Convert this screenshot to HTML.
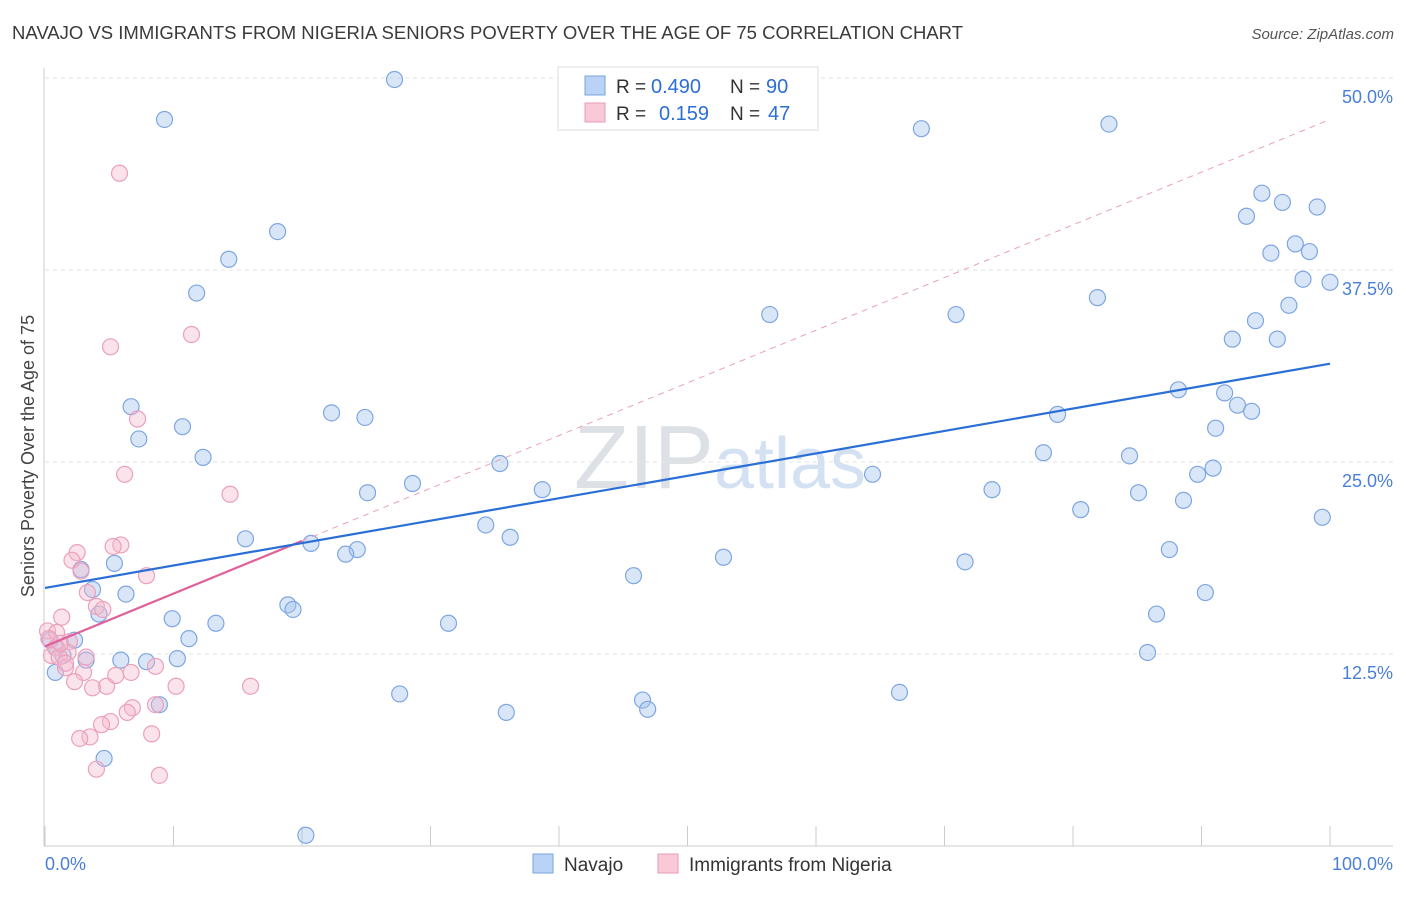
<!DOCTYPE html>
<html><head><meta charset="utf-8"><style>
body{margin:0;background:#fff;font-family:"Liberation Sans",sans-serif;}
svg text{font-family:"Liberation Sans",sans-serif;}
</style></head><body>
<svg id="chart" width="1406" height="892" xmlns="http://www.w3.org/2000/svg">
<text x="12" y="39" font-size="18" fill="#3a3a3a" textLength="951" lengthAdjust="spacingAndGlyphs">NAVAJO VS IMMIGRANTS FROM NIGERIA SENIORS POVERTY OVER THE AGE OF 75 CORRELATION CHART</text>
<text x="1394" y="39" font-size="15" fill="#555" text-anchor="end" font-style="italic">Source: ZipAtlas.com</text>
<text x="720" y="488" font-size="90" fill="#e4e8ee" text-anchor="middle" font-family="Liberation Serif"><tspan fill="#dde1e6">ZIP</tspan><tspan fill="#d3e1f3" font-family="Liberation Sans" font-size="72">atlas</tspan></text>
<g id="grid"></g>
<g id="axes"></g>
<g id="marks"></g>
<text transform="translate(34,456) rotate(-90)" font-size="18" fill="#444" text-anchor="middle">Seniors Poverty Over the Age of 75</text>
<text x="45" y="870" font-size="18" fill="#4a7fd8">0.0%</text>
<text x="1393" y="870" font-size="18" fill="#4a7fd8" text-anchor="end">100.0%</text>
<g>
<rect x="558" y="67" width="260" height="63" fill="#fff" stroke="#ddd"/>
<rect x="585" y="76" width="20" height="19" fill="#b9d2f5" stroke="#7aa3e0"/>
<rect x="585" y="103" width="20" height="19" fill="#f9c9d8" stroke="#e89ab5"/>
<text x="616" y="93" font-size="19" fill="#333">R =</text>
<text x="651" y="93" font-size="20" fill="#2a6fd6">0.490</text>
<text x="730" y="93" font-size="19" fill="#333">N =</text>
<text x="766" y="93" font-size="20" fill="#2a6fd6">90</text>
<text x="616" y="120" font-size="19" fill="#333">R =</text>
<text x="659" y="120" font-size="20" fill="#2a6fd6">0.159</text>
<text x="730" y="120" font-size="19" fill="#333">N =</text>
<text x="768" y="120" font-size="20" fill="#2a6fd6">47</text>
</g>
<g>
<rect x="533" y="854" width="20" height="19" fill="#b9d2f5" stroke="#7aa3e0"/>
<text x="564" y="871" font-size="19" fill="#333">Navajo</text>
<rect x="658" y="854" width="20" height="19" fill="#f9c9d8" stroke="#e89ab5"/>
<text x="689" y="871" font-size="19" fill="#333">Immigrants from Nigeria</text>
</g>
</svg>
<script>
const yTicks=[12.5,25,37.5,50];
const yTickLabels=["12.5%","25.0%","37.5%","50.0%"];
const xTicks=[0,10,20,30,40,50,60,70,80,90,100];
const navajoX=[27.2,9.3,68.2,82.8,18.1,14.3,11.8,94.7,96.3,99.0,93.5,97.3,95.4,98.4,97.9,100.0,81.9,56.4,70.9,96.8,94.2,92.4,95.9,6.7,22.3,24.9,10.7,7.3,78.8,88.2,91.8,92.8,93.9,91.1,12.3,77.7,84.4,35.4,28.6,25.1,38.7,64.4,89.7,90.9,73.7,85.1,88.6,80.6,99.4,34.3,36.2,15.6,20.7,24.3,23.4,87.5,52.8,71.6,5.4,2.8,45.8,3.7,6.3,90.3,18.9,19.3,4.2,9.9,86.5,31.4,13.3,11.2,2.3,85.8,0.9,1.4,3.2,5.9,7.9,10.3,0.8,27.6,46.5,46.9,66.5,8.9,35.9,4.6,20.3,0.4];
const navajoY=[49.9,47.3,46.7,47.0,40.0,38.2,36.0,42.5,41.9,41.6,41.0,39.2,38.6,38.7,36.9,36.7,35.7,34.6,34.6,35.2,34.2,33.0,33.0,28.6,28.2,27.9,27.3,26.5,28.1,29.7,29.5,28.7,28.3,27.2,25.3,25.6,25.4,24.9,23.6,23.0,23.2,24.2,24.2,24.6,23.2,23.0,22.5,21.9,21.4,20.9,20.1,20.0,19.7,19.3,19.0,19.3,18.8,18.5,18.4,18.0,17.6,16.7,16.4,16.5,15.7,15.4,15.1,14.8,15.1,14.5,14.5,13.5,13.4,12.6,12.9,12.4,12.1,12.1,12.0,12.2,11.3,9.9,9.5,8.9,10.0,9.2,8.7,5.7,0.7,13.4];
const nigeriaX=[5.8,5.1,11.4,7.2,6.2,14.4,5.9,5.3,2.5,2.1,7.9,2.8,3.3,4.0,4.5,1.3,0.2,0.9,1.9,0.8,1.8,0.5,1.1,3.2,3.0,1.6,2.3,3.7,4.8,5.5,6.7,8.6,10.2,16.0,8.6,6.8,6.4,5.1,4.4,3.5,2.7,8.3,4.0,8.9,0.3,1.2,1.6];
const nigeriaY=[43.8,32.5,33.3,27.8,24.2,22.9,19.6,19.5,19.1,18.6,17.6,17.9,16.5,15.6,15.4,14.9,14.0,13.9,13.3,12.9,12.6,12.4,12.3,12.3,11.3,11.6,10.7,10.3,10.4,11.1,11.3,11.7,10.4,10.4,9.2,9.0,8.7,8.1,7.9,7.1,7.0,7.3,5.0,4.6,13.5,13.2,11.9];
const navajoTrend=[16.8,31.4];
const nigeriaTrend=[13.0,47.3];
const nigeriaSolidEnd=20;

const NS="http://www.w3.org/2000/svg";
const X=v=>45+v*12.85;
const Y=v=>846-v*15.36;
function mk(tag,attrs,parent){const e=document.createElementNS(NS,tag);for(const k in attrs)e.setAttribute(k,attrs[k]);parent.appendChild(e);return e;}
const grid=document.getElementById('grid'),axes=document.getElementById('axes'),marks=document.getElementById('marks');
yTicks.forEach((t,i)=>{
 const l=mk('line',{x1:45,x2:1393,y1:Y(t),y2:Y(t),stroke:'#e3e3e3','stroke-dasharray':'4,4'},grid);
 
 
 const tx=mk('text',{x:1393,y:Y(t)+25,'font-size':18,fill:'#4a7fd8','text-anchor':'end'},grid);
 tx.textContent=yTickLabels[i];
 
 
});
const ax=mk('line',{x1:44,x2:44,y1:68,y2:846,stroke:'#ccc'},axes);


const bx=mk('line',{x1:44,x2:1393,y1:846,y2:846,stroke:'#ccc'},axes);


xTicks.forEach(t=>{
 const l=mk('line',{x1:X(t),x2:X(t),y1:826,y2:846,stroke:'#ccc'},axes);
 
 
});
navajoX.forEach((x,i)=>{
 const c=mk('circle',{cx:X(x),cy:Y(navajoY[i]),r:8,fill:'rgba(160,192,238,0.4)',stroke:'#7ea6e2','stroke-width':1.2},marks);
 
 
});
nigeriaX.forEach((x,i)=>{
 const c=mk('circle',{cx:X(x),cy:Y(nigeriaY[i]),r:8,fill:'rgba(246,184,204,0.4)',stroke:'#eba0bb','stroke-width':1.2},marks);
 
 
});
const nAt=x=>nigeriaTrend[0]+(nigeriaTrend[1]-nigeriaTrend[0])*x/100;
const nd=mk('line',{x1:X(nigeriaSolidEnd),y1:Y(nAt(nigeriaSolidEnd)),x2:X(100),y2:Y(nigeriaTrend[1]),stroke:'#e8a0bc','stroke-width':1,'stroke-dasharray':'6,5'},marks);


const nl=mk('line',{x1:X(0),y1:Y(nigeriaTrend[0]),x2:X(nigeriaSolidEnd),y2:Y(nAt(nigeriaSolidEnd)),stroke:'#e0609a','stroke-width':2.2},marks);


const bl=mk('line',{x1:X(0),y1:Y(navajoTrend[0]),x2:X(100),y2:Y(navajoTrend[1]),stroke:'#2a6fd6','stroke-width':2.2},marks);


</script>
</body></html>
